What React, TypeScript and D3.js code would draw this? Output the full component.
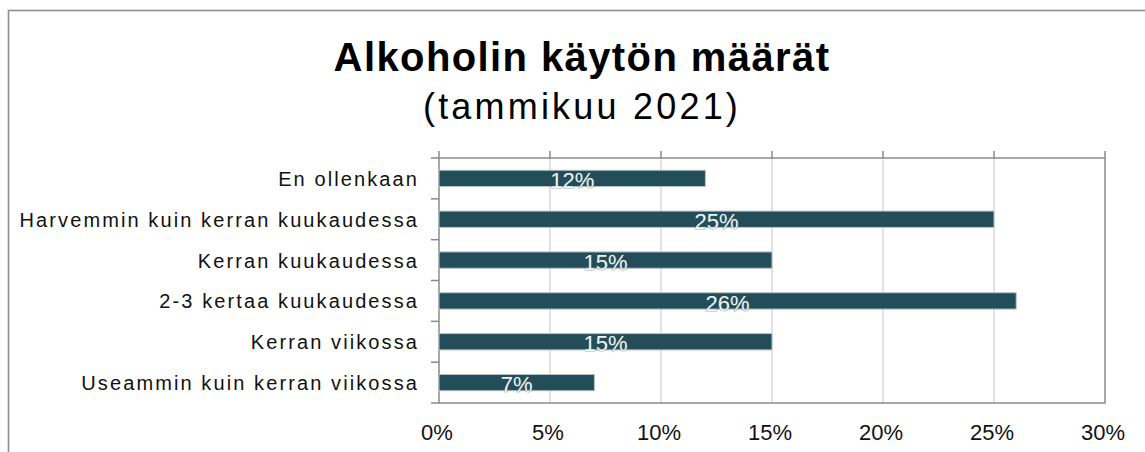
import React from "react";
import * as d3 from "d3";

const categories = [
  "En ollenkaan",
  "Harvemmin kuin kerran kuukaudessa",
  "Kerran kuukaudessa",
  "2-3 kertaa kuukaudessa",
  "Kerran viikossa",
  "Useammin kuin kerran viikossa",
];
const values = [12, 25, 15, 26, 15, 7];
const xTicks = [0, 5, 10, 15, 20, 25, 30];
const titleText = "Alkoholin käytön määrät";
const subtitleText = "(tammikuu 2021)";

const W = 1145;
const H = 452;
const M = { left: 439, right: 1105, top: 158, bottom: 403 };
const FONT = "'Liberation Sans', Arial, sans-serif";

export default function App() {
  const x = d3.scaleLinear().domain([0, 30]).range([M.left, M.right]);
  const y = d3
    .scaleBand<string>()
    .domain(categories)
    .range([M.top, M.bottom])
    .paddingInner(0.6)
    .paddingOuter(0.3);
  const boundaries = d3.range(categories.length + 1).map((i) => M.top + i * ((M.bottom - M.top) / categories.length));

  return (
    <div style={{ position: "absolute", left: 0, top: 0 }}>
      <svg width={W} height={H} style={{ display: "block", background: "#fff" }}>
        {/* outer border */}
        <rect x={8.5} y={10.5} width={W + 20} height={H + 20} fill="#fff" stroke="#8e8e8e" strokeWidth={1.6} />

        {/* title */}
        <text x={582} y={71} textAnchor="middle" fontFamily={FONT} fontWeight="bold" fontSize={40} letterSpacing={1.4} fill="#000">
          {titleText}
        </text>
        <text x={582} y={119} textAnchor="middle" fontFamily={FONT} fontSize={36} letterSpacing={3.2} fill="#000">
          {subtitleText}
        </text>

        {/* gridlines */}
        {xTicks.slice(1, -1).map((t) => (
          <line key={"g" + t} x1={x(t)} x2={x(t)} y1={M.top} y2={M.bottom} stroke="#d9d9d9" strokeWidth={1.5} />
        ))}

        {/* plot border */}
        <rect x={M.left} y={M.top} width={M.right - M.left} height={M.bottom - M.top} fill="none" stroke="#8a8a8a" strokeWidth={1.5} />

        {/* top ticks */}
        {xTicks.map((t) => (
          <line key={"tt" + t} x1={x(t)} x2={x(t)} y1={M.top - 7} y2={M.top} stroke="#8a8a8a" strokeWidth={1.5} />
        ))}
        {/* left ticks */}
        {boundaries.map((b, i) => (
          <line key={"lt" + i} x1={M.left - 8} x2={M.left} y1={b} y2={b} stroke="#8a8a8a" strokeWidth={1.5} />
        ))}

        {/* bars */}
        {categories.map((c, i) => (
          <rect
            key={"b" + c}
            x={x(0)}
            y={y(c)!}
            width={x(values[i]) - x(0)}
            height={y.bandwidth()}
            fill="#234d59"
            stroke="#b8c4c8"
            strokeWidth={1}
          />
        ))}

        {/* bar labels */}
        {categories.map((c, i) => (
          <text
            key={"bl" + c}
            x={(x(0) + x(values[i])) / 2}
            y={y(c)! + y.bandwidth() + 1.5}
            textAnchor="middle"
            fontFamily={FONT}
            fontSize={22}
            fill="#eef3f4"
            stroke="#3b5f69"
            strokeWidth={0.6}
            paintOrder="stroke"
          >
            {values[i] + "%"}
          </text>
        ))}

        {/* category labels */}
        {categories.map((c) => (
          <text
            key={"cl" + c}
            x={419}
            y={y(c)! + y.bandwidth() / 2 + 7.5}
            textAnchor="end"
            fontFamily={FONT}
            fontSize={20}
            letterSpacing={2.1}
            fill="#111"
          >
            {c}
          </text>
        ))}

        {/* x tick labels */}
        {xTicks.map((t) => (
          <text key={"xl" + t} x={x(t) - 2} y={440} textAnchor="middle" fontFamily={FONT} fontSize={22} fill="#111">
            {t + "%"}
          </text>
        ))}
      </svg>
    </div>
  );
}
